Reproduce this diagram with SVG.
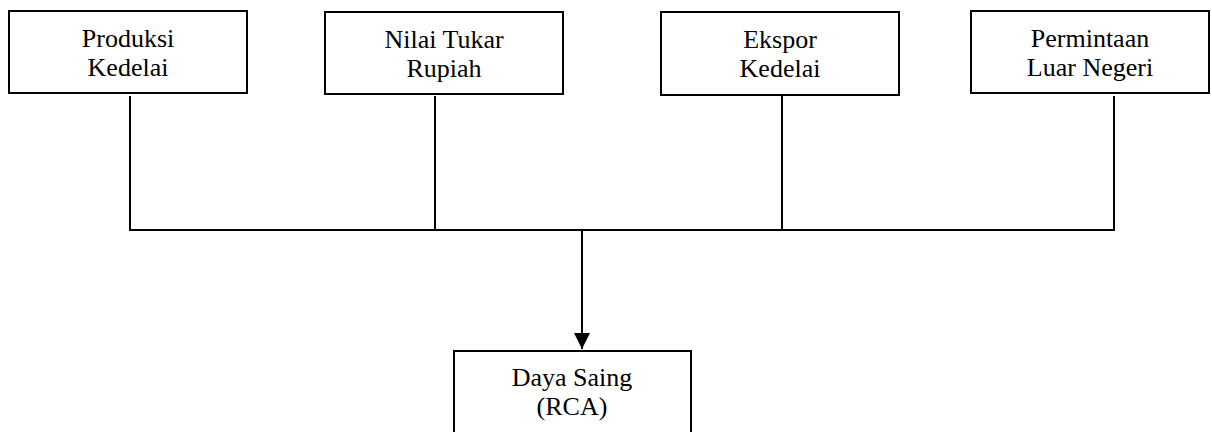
<svg xmlns="http://www.w3.org/2000/svg" width="1212" height="432" viewBox="0 0 1212 432">
<style>
.box{fill:#fff;stroke:#000;stroke-width:2}
.t{font-family:"Liberation Serif","Times New Roman",serif;font-size:26px;fill:#000;text-anchor:middle}
.ln{stroke:#000;stroke-width:2;fill:none}
</style>
<defs>
<marker id="ah" markerWidth="16" markerHeight="16" refX="16" refY="8" orient="auto" markerUnits="userSpaceOnUse">
<path d="M0,0 L16,8 L0,16 Z" fill="#000"/>
</marker>
</defs>
<rect width="1212" height="432" fill="#fff"/>
<g id="connectors">
<line class="ln" x1="130" y1="96" x2="130" y2="230"/>
<line class="ln" x1="435" y1="96" x2="435" y2="230"/>
<line class="ln" x1="782" y1="96" x2="782" y2="230"/>
<line class="ln" x1="1114" y1="96" x2="1114" y2="230"/>
<line class="ln" x1="129" y1="230" x2="1115" y2="230"/>
<line class="ln" x1="582" y1="230" x2="582" y2="349" marker-end="url(#ah)"/>
</g>
<g id="produksi">
<rect class="box" x="9" y="11" width="238" height="82"/>
<text class="t" x="128" y="47">Produksi</text>
<text class="t" x="128" y="76">Kedelai</text>
</g>
<g id="nilai">
<rect class="box" x="325" y="12" width="238" height="82"/>
<text class="t" x="444" y="48">Nilai Tukar</text>
<text class="t" x="444" y="77">Rupiah</text>
</g>
<g id="ekspor">
<rect class="box" x="661" y="12" width="238" height="83"/>
<text class="t" x="780" y="48">Ekspor</text>
<text class="t" x="780" y="77">Kedelai</text>
</g>
<g id="permintaan">
<rect class="box" x="971" y="11" width="238" height="82"/>
<text class="t" x="1090" y="47">Permintaan</text>
<text class="t" x="1090" y="76">Luar Negeri</text>
</g>
<g id="dayasaing">
<rect class="box" x="454" y="351" width="237" height="90"/>
<text class="t" x="572" y="386">Daya Saing</text>
<text class="t" x="572" y="415">(RCA)</text>
</g>
</svg>
